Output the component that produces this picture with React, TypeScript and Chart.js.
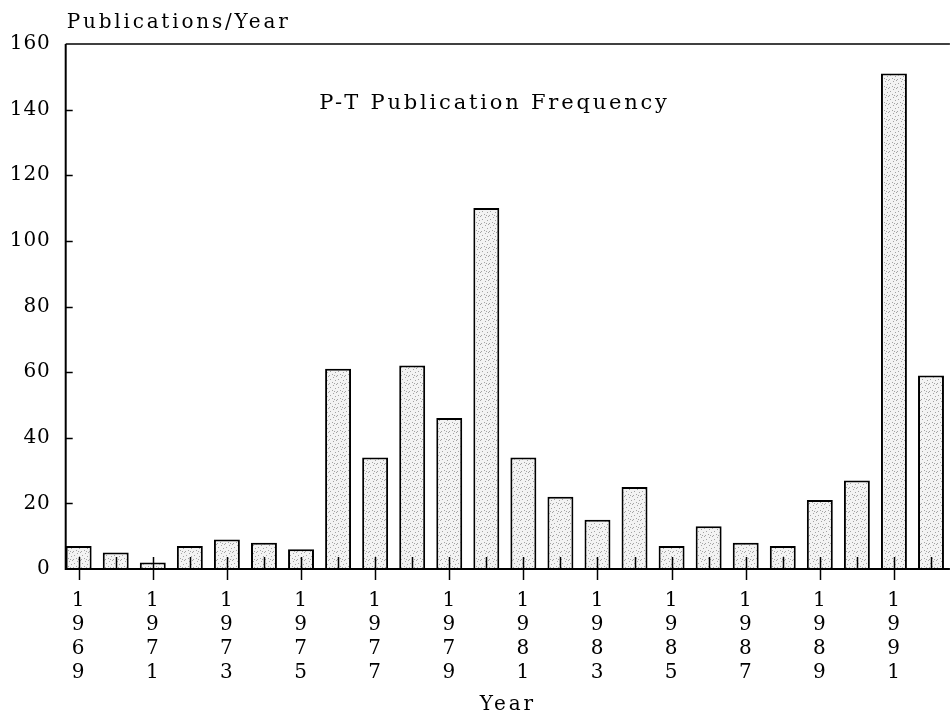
import React, { useEffect, useRef } from 'react';
import { Chart, registerables } from 'chart.js';

Chart.register(...registerables);

// ---- data ----
const years = [1969, 1970, 1971, 1972, 1973, 1974, 1975, 1976, 1977, 1978, 1979, 1980,
  1981, 1982, 1983, 1984, 1985, 1986, 1987, 1988, 1989, 1990, 1991, 1992];
const publications = [7, 5, 2, 7, 9, 8, 6, 61, 34, 62, 46, 110,
  34, 22, 15, 25, 7, 13, 8, 7, 21, 27, 151, 59];
const yearLabels = ['1969', '1971', '1973', '1975', '1977', '1979', '1981', '1983', '1985', '1987', '1989', '1991'];
const yTicks = [0, 20, 40, 60, 80, 100, 120, 140, 160];
const chartTitle = 'P-T Publication Frequency';
const yAxisTitle = 'Publications/Year';
const xAxisTitle = 'Year';

const FONT_FAMILY = '"DejaVu Serif", "Liberation Serif", serif';
const INK = '#000000';

function makeStipple(): CanvasPattern | string {
  const c = document.createElement('canvas');
  c.width = 8;
  c.height = 8;
  const g = c.getContext('2d');
  if (!g) return '#e8e8e8';
  g.fillStyle = '#f3f3f3';
  g.fillRect(0, 0, 8, 8);
  g.fillStyle = '#a4a4a4';
  [[0, 0], [5, 1], [2, 3], [7, 4], [4, 6], [1, 7], [6, 7]].forEach(([a, b]) => g.fillRect(a, b, 1, 1));
  return g.createPattern(c, 'repeat') || '#e8e8e8';
}

const decorPlugin = {
  id: 'decor',
  beforeDraw(chart: any) {
    chart.ctx.letterSpacing = '0.9px';
  },
  afterDatasetsDraw(chart: any) {
    const { ctx, chartArea } = chart;
    const { left, right, top, bottom } = chartArea;
    const x = chart.scales.x;
    const y = chart.scales.y;
    ctx.save();
    ctx.strokeStyle = INK;
    const line = (x1: number, y1: number, x2: number, y2: number, w: number) => {
      ctx.lineWidth = w;
      ctx.beginPath();
      ctx.moveTo(x1, y1);
      ctx.lineTo(x2, y2);
      ctx.stroke();
    };
    // frame
    line(left, top, right, top, 1.5);
    line(left, top, left, bottom + 1, 2);
    line(left, bottom, right, bottom, 2);
    // y ticks (inside)
    yTicks.forEach((v) => {
      if (v === yTicks[0] || v === yTicks[yTicks.length - 1]) return;
      const py = Math.round(y.getPixelForValue(v)) + 0.5;
      line(left, py, left + 7, py, 1.5);
    });
    // x ticks
    years.forEach((yr) => {
      const px = Math.round(x.getPixelForValue(yr)) + 0.5;
      const labelled = yearLabels.includes(String(yr));
      line(px, bottom - 12, px, labelled ? bottom + 11 : bottom, 1.5);
    });
    ctx.restore();
  },
  afterDraw(chart: any) {
    const { ctx, chartArea } = chart;
    const { left, right, top, bottom } = chartArea;
    ctx.save();
    ctx.fillStyle = INK;
    ctx.textBaseline = 'alphabetic';
    // y axis title (horizontal, above axis)
    ctx.font = `20px ${FONT_FAMILY}`;
    ctx.letterSpacing = '2.8px';
    ctx.textAlign = 'left';
    ctx.fillText(yAxisTitle, left + 1, top - 16);
    // x axis title
    ctx.textAlign = 'center';
    ctx.fillText(xAxisTitle, left + (right - left) * 0.5, bottom + 141);
    // chart title inside plot
    ctx.font = `21px ${FONT_FAMILY}`;
    ctx.letterSpacing = '2.8px';
    ctx.fillText(chartTitle, left + (right - left) * 0.485, top + 65);
    ctx.restore();
  },
};

export default function App() {
  const canvasRef = useRef<HTMLCanvasElement | null>(null);

  useEffect(() => {
    document.body.style.margin = '0';
    const canvas = canvasRef.current;
    if (!canvas) return;
    const stipple = makeStipple();
    const chart = new Chart(canvas, {
      type: 'bar',
      data: {
        datasets: [
          {
            label: 'Publications',
            data: years.map((yr, i) => ({ x: yr, y: publications[i] })),
            backgroundColor: stipple as any,
            borderColor: INK,
            borderWidth: 2,
            borderSkipped: 'bottom',
            barPercentage: 0.7,
            categoryPercentage: 1,
          },
        ],
      },
      options: {
        animation: false,
        responsive: true,
        maintainAspectRatio: false,
        layout: { padding: { top: 44, right: 0, bottom: 0, left: 0 } },
        plugins: {
          legend: { display: false },
          title: { display: false },
          tooltip: { enabled: false },
        },
        scales: {
          x: {
            type: 'linear',
            min: 1968.65,
            max: 1992.51,
            offset: false,
            grid: { display: false, drawTicks: false },
            border: { display: false },
            afterFit: (scale: any) => {
              scale.height = 144;
            },
            afterBuildTicks: (scale: any) => {
              scale.ticks = years.map((yr) => ({ value: yr }));
            },
            ticks: {
              autoSkip: false,
              maxRotation: 0,
              padding: 20,
              color: INK,
              font: { family: FONT_FAMILY, size: 20, lineHeight: 1.2 },
              callback: (value: any) => {
                const s = String(value);
                return yearLabels.includes(s) ? s.split('') : '';
              },
            },
          },
          y: {
            min: 0,
            max: 160,
            grid: { display: false, drawTicks: false },
            border: { display: false },
            afterFit: (scale: any) => {
              scale.width = 65.7;
            },
            afterBuildTicks: (scale: any) => {
              scale.ticks = yTicks.map((v) => ({ value: v }));
            },
            ticks: {
              padding: 15,
              color: INK,
              font: { family: FONT_FAMILY, size: 20 },
              callback: (value: any) => String(value),
            },
          },
        },
      },
      plugins: [decorPlugin],
    });
    return () => chart.destroy();
  }, []);

  return (
    <div style={{ position: 'fixed', left: 0, top: 0, width: 951, height: 713, background: '#ffffff' }}>
      <canvas ref={canvasRef} />
    </div>
  );
}
